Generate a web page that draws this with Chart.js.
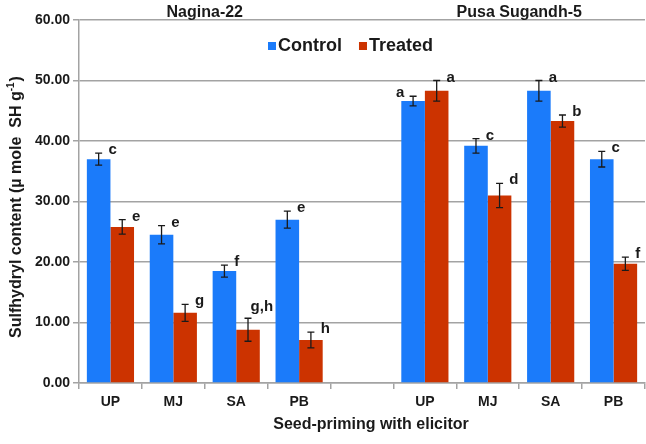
<!DOCTYPE html>
<html><head><meta charset="utf-8">
<script src="https://cdn.jsdelivr.net/npm/chart.js@4/dist/chart.umd.min.js"></script>
<style>html,body{margin:0;padding:0;background:#fff}#wrap{width:646px;height:444px;position:relative}</style>
</head><body><div id="wrap"><canvas id="c"></canvas></div>
<script>
const categories = ['UP','MJ','SA','PB','','UP','MJ','SA','PB'];
const groups = ['Nagina-22','Pusa Sugandh-5'];
const seriesNames = ['Control','Treated'];
const controlValues = [37.0,24.5,18.5,27.0,null,46.6,39.2,48.3,37.0];
const controlErrors = [1.0,1.5,1.0,1.4,null,0.8,1.2,1.7,1.3];
const controlLetters = ['c','e','f','e','','a','c','a','c'];
const treatedValues = [25.8,11.6,8.8,7.1,null,48.3,31.0,43.3,19.7];
const treatedErrors = [1.2,1.4,1.9,1.3,null,1.7,2.0,1.0,1.1];
const treatedLetters = ['e','g','g,h','h','','a','d','b','f'];
const yTickValues = [0,10,20,30,40,50,60];
const yTitle = ['Sulfhydryl content (\u00b5 mole  SH g','-1',')'];
const xTitle = 'Seed-priming with elicitor';

const FONT = '"Liberation Sans", Arial, Helvetica, sans-serif';
const TXT = '#1a1a1a';
const GRID = '#a3a3a3';
const BLUE = '#1b7bfa';
const RED = '#cc3300';

const extras = {
  id: 'extras',
  afterDatasetsDraw(chart) {
    const ctx = chart.ctx, y = chart.scales.y;
    chart.data.datasets.forEach((ds, di) => {
      const meta = chart.getDatasetMeta(di);
      meta.data.forEach((el, i) => {
        const v = ds.data[i];
        if (v == null) return;
        const e = ds.errors[i];
        const yt = y.getPixelForValue(v + e), yb = y.getPixelForValue(v - e);
        ctx.save();
        ctx.strokeStyle = TXT; ctx.lineWidth = 1.3;
        ctx.beginPath();
        ctx.moveTo(el.x, yt); ctx.lineTo(el.x, yb);
        ctx.moveTo(el.x - 3.5, yt); ctx.lineTo(el.x + 3.5, yt);
        ctx.moveTo(el.x - 3.5, yb); ctx.lineTo(el.x + 3.5, yb);
        ctx.stroke();
        const L = ds.letters[i];
        ctx.font = 'bold 15px ' + FONT;
        ctx.fillStyle = TXT;
        ctx.textBaseline = 'alphabetic';
        const right = el.x + el.width / 2, left = el.x - el.width / 2;
        const next = chart.data.datasets[di + 1];
        if (next && next.data[i] != null && y.getPixelForValue(next.data[i]) < yt + 2) {
          ctx.textAlign = 'right'; ctx.fillText(L, left + 3, yt + 1);
        } else if (L.length > 1) {
          ctx.textAlign = 'center'; ctx.fillText(L, right + 2, yt - 7);
        } else {
          ctx.textAlign = 'left'; ctx.fillText(L, right - 2, yt + 1);
        }
        ctx.restore();
      });
    });
  },
  afterDraw(chart) {
    const ctx = chart.ctx, x = chart.scales.x;
    ctx.save();
    ctx.fillStyle = TXT;
    // group titles
    ctx.font = 'bold 16px ' + FONT;
    ctx.textAlign = 'center'; ctx.textBaseline = 'middle';
    const gap = categories.indexOf('');
    const ranges = [[0, gap - 1], [gap + 1, categories.length - 1]];
    groups.forEach((g, k) => {
      const cx = (x.getPixelForValue(ranges[k][0]) + x.getPixelForValue(ranges[k][1])) / 2;
      ctx.fillText(g, cx, 13);
    });
    // legend
    ctx.font = 'bold 18px ' + FONT;
    ctx.textAlign = 'left'; ctx.textBaseline = 'middle';
    let lx = 268;
    chart.data.datasets.forEach((ds) => {
      ctx.fillStyle = ds.backgroundColor;
      ctx.fillRect(lx, 42, 8, 8);
      ctx.fillStyle = TXT;
      ctx.fillText(ds.label, lx + 10, 46);
      lx += 10 + ctx.measureText(ds.label).width + 17;
    });
    // x title
    ctx.font = 'bold 16px ' + FONT;
    ctx.textAlign = 'center';
    ctx.fillText(xTitle, 371, 425);
    // y title
    ctx.translate(17, 207);
    ctx.rotate(-Math.PI / 2);
    const fMain = 'bold 16px ' + FONT, fSup = 'bold 10px ' + FONT;
    ctx.font = fMain; const w0 = ctx.measureText(yTitle[0]).width, w2 = ctx.measureText(yTitle[2]).width;
    ctx.font = fSup; const w1 = ctx.measureText(yTitle[1]).width;
    let sx = -(w0 + w1 + w2 + 1) / 2;
    ctx.textAlign = 'left'; ctx.textBaseline = 'middle';
    ctx.font = fMain; ctx.fillText(yTitle[0], sx, 0); sx += w0;
    ctx.font = fSup; ctx.fillText(yTitle[1], sx, -6); sx += w1 + 1;
    ctx.font = fMain; ctx.fillText(yTitle[2], sx, 0);
    ctx.restore();
  }
};

new Chart(document.getElementById('c'), {
  type: 'bar',
  data: {
    labels: categories,
    datasets: [
      { label: seriesNames[0], data: controlValues, errors: controlErrors, letters: controlLetters, backgroundColor: BLUE },
      { label: seriesNames[1], data: treatedValues, errors: treatedErrors, letters: treatedLetters, backgroundColor: RED }
    ]
  },
  options: {
    responsive: true,
    maintainAspectRatio: false,
    animation: false,
    devicePixelRatio: 1,
    layout: { padding: { top: 20, right: 1, left: 0, bottom: 0 } },
    datasets: { bar: { barPercentage: 1.0, categoryPercentage: 0.75 } },
    plugins: { legend: { display: false }, tooltip: { enabled: false } },
    scales: {
      x: {
        afterFit: (s) => { s.height = 61; },
        grid: { offset: true, drawOnChartArea: false, drawTicks: true, tickLength: 6, color: GRID, lineWidth: 1.5 },
        border: { color: GRID, width: 1.5 },
        ticks: { color: TXT, font: { family: FONT, size: 14, weight: 'bold' }, padding: 5, maxRotation: 0, autoSkip: false }
      },
      y: {
        min: 0, max: 60,
        afterFit: (s) => { s.width = 79; },
        afterBuildTicks: (s) => { s.ticks = yTickValues.map(v => ({ value: v })); },
        grid: { color: GRID, lineWidth: 1.5, tickLength: 6, drawTicks: true },
        border: { color: GRID, width: 1.5 },
        ticks: { color: TXT, padding: 3, font: { family: FONT, size: 14, weight: 'bold' }, callback: (v) => Number(v).toFixed(2) }
      }
    }
  },
  plugins: [extras]
});
</script></body></html>
